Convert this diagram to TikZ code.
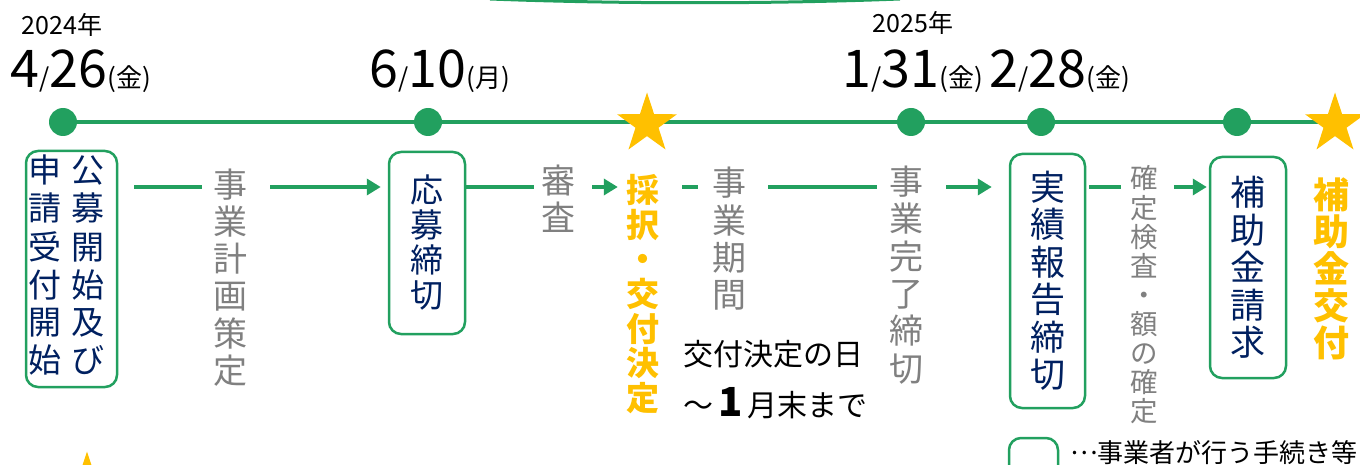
\documentclass[tikz,border=0pt]{standalone}
\usepackage{fontspec}
\setmainfont{Noto Sans CJK JP}
\usetikzlibrary{arrows.meta,shapes.geometric,backgrounds}
\definecolor{tlgreen}{HTML}{22A05F}
\definecolor{navy}{HTML}{002060}
\definecolor{textgray}{HTML}{808080}
\definecolor{gold}{HTML}{FFC000}
\newcommand{\bigd}{\fontsize{52}{52}\selectfont}
\newcommand{\smalld}{\fontsize{26}{26}\selectfont}
\begin{document}
\begin{tikzpicture}[x=1pt,y=-1pt,
	dot/.style={circle,fill=tlgreen,minimum size=28pt,inner sep=0pt},
	goal/.style={star,star points=5,star point ratio=2.6,fill=gold,minimum size=63pt,inner sep=0pt},
	procbox/.style={draw=tlgreen,line width=2.5pt,rounded corners=12pt,text=navy,font=\fontsize{33}{35}\selectfont,align=center,inner sep=0pt},
	stage/.style={text=textgray,font=\fontsize{34}{37.3}\selectfont,align=center,inner sep=0pt},
	result/.style={text=gold,font=\bfseries\fontsize{33}{34.7}\selectfont,align=center,inner sep=0pt},
	flow/.style={tlgreen,line width=4.5pt},
	flowarrow/.style={flow,-{Triangle[length=14pt,width=16pt]}},
	datelbl/.style={anchor=base,inner sep=0pt}]
			\useasboundingbox (0,0) rectangle (1360,465);
			\clip (0,0) rectangle (1360,465);
			
			% Draw the arc cut by the top edge
			\draw[tlgreen,line width=3pt] (490,-1) .. controls (620,4) and (770,4) .. (900,-1);
			
			% Draw the years and dates
			\node[datelbl] (y24) at (62,35) {\fontsize{25}{25}\selectfont 2024年};
			\node[datelbl] (t1) at (81,88) {\bigd 4\smalld /\bigd 26\smalld (金)};
			\node[datelbl] (t2) at (440,88) {\bigd 6\smalld /\bigd 10\smalld (月)};
			\node[datelbl] (y25) at (913,33) {\fontsize{25}{25}\selectfont 2025年};
			\node[datelbl] (t3) at (913,88) {\bigd 1\smalld /\bigd 31\smalld (金)};
			\node[datelbl] (t4) at (1060,88) {\bigd 2\smalld /\bigd 28\smalld (金)};
			
			% Draw the points on the timeline
			\node[dot] (d1) at (63,122) {};
			\node[dot] (d2) at (428,122) {};
			\node[goal] (s1) at (647,124) {};
			\node[dot] (d3) at (911,122) {};
			\node[dot] (d4) at (1041,122) {};
			\node[dot] (d5) at (1237,122) {};
			\node[goal] (s2) at (1335,124) {};
			\node[goal] (s3) at (87,483) {};
			
			% Draw the timeline behind the points
			\begin{scope}[on background layer]
				\draw[flow] (d1.center) -- (d1.center -| s2.center);
			\end{scope}
			
			% Draw the steps done by the applicant
			\node[procbox,minimum width=91pt,minimum height=236pt] (open) at (71.5,269) {\begin{tabular}{@{}c@{\hspace{10pt}}c@{}}申&公\\請&募\\受&開\\付&始\\開&及\\始&び\end{tabular}\hspace{10pt}};
			\node[procbox,minimum width=76pt,minimum height=182pt] (close) at (427,243) {応\\募\\締\\切};
			\node[procbox,minimum width=75pt,minimum height=254pt,font=\fontsize{35}{37.5}\selectfont] (report) at (1047.5,281) {実\\績\\報\\告\\締\\切};
			\node[procbox,minimum width=76pt,minimum height=221pt,font=\fontsize{35}{37.5}\selectfont] (claim) at (1248,267.5) {補\\助\\金\\請\\求};
			
			% Draw the stages between the steps
			\node[stage] (plan) at (230.5,277.5) {事\\業\\計\\画\\策\\定};
			\node[stage] (review) at (558.5,198.5) {審\\査};
			\node[result] (adopt) at (643,294) {採\\択\\・\\交\\付\\決\\定};
			\node[stage] (period) at (729.5,239) {事\\業\\期\\間};
			\node[stage] (finish) at (906.5,275) {事\\業\\完\\了\\締\\切};
			\node[stage,font=\fontsize{27.5}{29.1}\selectfont] (inspect) at (1144,295) {確\\定\\検\\査\\・\\額\\の\\確\\定};
			\node[result,font=\bfseries\fontsize{36}{37}\selectfont] (pay) at (1331,269) {補\\助\\金\\交\\付};
			
			% Draw the note on the project period
			\node[anchor=west,align=left,inner sep=0pt,font=\fontsize{30}{51}\selectfont] (note) at (683,379.5) {交付決定の日\\～\,{\bfseries\fontsize{40}{51}\selectfont 1}\,月末まで};
			
			% Draw the lines and arrows between the steps
			\coordinate (row) at (0,187);
			\draw[flow,shorten <=16pt,shorten >=11.5pt] (open.east |- row) -- (plan.west |- row);
			\draw[flowarrow,shorten <=22.5pt,shorten >=7pt] (plan.east |- row) -- (close.west |- row);
			\draw[flow,shorten >=7.5pt] (close.east |- row) -- (review.west |- row);
			\draw[flowarrow,shorten <=16.5pt,shorten >=8.5pt] (review.east |- row) -- (adopt.west |- row);
			\draw[flow,shorten <=22.5pt,shorten >=14.5pt] (adopt.east |- row) -- (period.west |- row);
			\draw[flow,shorten <=21.5pt,shorten >=12.5pt] (period.east |- row) -- (finish.west |- row);
			\draw[flowarrow,shorten <=22.5pt,shorten >=17pt] (finish.east |- row) -- (report.west |- row);
			\draw[flow,shorten <=3pt,shorten >=9pt] (report.east |- row) -- (inspect.west |- row);
			\draw[flowarrow,shorten <=16pt,shorten >=2pt] (inspect.east |- row) -- (claim.west |- row);
			
			% Draw the key
			\node[procbox,minimum width=49pt,minimum height=40pt] (keybox) at (1033.5,458) {};
			\node[anchor=west,inner sep=0pt,font=\fontsize{26}{26}\selectfont] (keytext) at (1070,453) {\raisebox{8pt}{…}事業者が行う手続き等};
		\end{tikzpicture}
\end{document}
